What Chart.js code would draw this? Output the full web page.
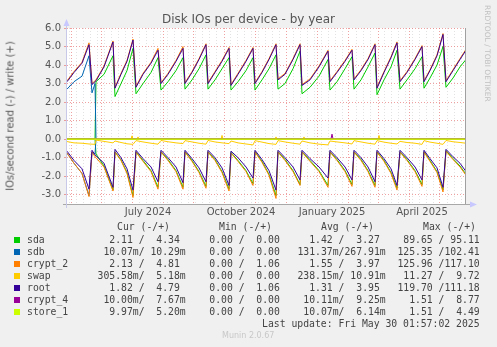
<!DOCTYPE html>
<html>
<head>
<meta charset="utf-8">
<title>Disk IOs per device - by year</title>
<script src="https://cdn.jsdelivr.net/npm/chart.js@4.4.1/dist/chart.umd.min.js"></script>
<style>
  body { margin: 0; background: #f0f0f0; }
  #wrap { position: relative; width: 497px; height: 347px; background: #f0f0f0; overflow: hidden;
          font-family: "DejaVu Sans", sans-serif; }
  #graph { position: absolute; left: 0; top: 0; }
  .t { position: absolute; white-space: pre; }
  #title { left: 0; top: 12px; width: 497px; text-align: center; font-size: 12px; color: #555; }
  #vlabel { left: 10px; top: 116px; font-size: 10px; color: #555;
            transform: translate(-50%, -50%) rotate(-90deg); }
  #rrd { left: 483px; top: 5px; writing-mode: vertical-rl; font-size: 7.5px; color: #c0c0c0; }
  .mono { font-family: "DejaVu Sans Mono", monospace; font-size: 9.77px; color: #444; line-height: 12px; }
  .box { position: absolute; width: 6px; height: 6px; }
  #munin { left: 222px; top: 331px; font-size: 8px; color: #c8c8c8; }
</style>
</head>
<body>
<div id="wrap">
  <canvas id="graph" width="497" height="347"></canvas>
  <div id="title" class="t">Disk IOs per device - by year</div>
  <div id="vlabel" class="t">IOs/second read (-) / write (+)</div>
  <div id="rrd" class="t">RRDTOOL / TOBI OETIKER</div>
  <div id="legend"></div>
  <div id="munin" class="t">Munin 2.0.67</div>
</div>
<script>
// x = days since the start of the 400 day window (ends Fri May 30 2025)
const days = [0, 7, 15, 22, 25, 28, 29, 37, 46, 48, 54, 60, 66, 69, 76, 84, 91,
  94, 101, 109, 116, 118, 125, 132, 139, 141, 148, 155, 162, 164, 171, 179, 186,
  188, 195, 202, 209, 211, 218, 226, 233, 235, 243, 252, 261, 263, 270, 278, 285,
  287, 294, 301, 308, 310, 317, 324, 330, 333, 340, 348, 355, 357, 363, 370, 376,
  379, 386, 393, 399];

const sdaWrite = [0, 0, 0, 0, 0, 0, 3.1, 3.5, 4.5, 2.3, 3.0, 3.7, 4.9, 2.45, 3.0, 3.6, 4.4,
  2.65, 3.1, 3.7, 4.4, 2.7, 3.2, 3.8, 4.55, 2.7, 3.2, 3.8, 4.4, 2.65, 3.1, 3.7, 4.4,
  2.65, 3.2, 3.8, 4.55, 2.7, 3.0, 3.8, 4.75, 2.45, 2.8, 3.4, 4.3, 2.65, 3.1, 3.8, 4.45,
  2.7, 3.2, 3.9, 4.65, 2.4, 3.2, 3.9, 4.8, 2.7, 3.2, 3.8, 4.45, 2.75, 3.3, 4.0, 5.0,
  2.8, 3.3, 3.9, 4.3];
const sdaRead = [0, 0, 0, 0, 0, 0, -0.8, -1.45, -2.75, -0.68, -1.12, -1.8, -3.05, -0.68, -1.15, -1.7, -2.6,
  -0.68, -1.1, -1.7, -2.6, -0.68, -1.15, -1.75, -2.55, -0.68, -1.1, -1.75, -2.7, -0.72, -1.15, -1.7, -2.4,
  -0.68, -1.2, -1.9, -3.05, -0.68, -1.1, -1.7, -2.45, -0.68, -1.15, -1.7, -2.5, -0.68, -1.1, -1.7, -2.45,
  -0.68, -1.1, -1.7, -2.5, -0.68, -1.15, -1.8, -2.65, -0.68, -1.1, -1.7, -2.45, -0.68, -1.15, -1.75, -2.75,
  -0.62, -1.05, -1.45, -1.9];

const sdbWrite = [2.7, 3.1, 3.4, 4.5, 2.5, 3.0, 0, 0, 0, 0, 0, 0, 0, 0, 0, 0, 0,
  0, 0, 0, 0, 0, 0, 0, 0, 0, 0, 0, 0, 0, 0, 0, 0,
  0, 0, 0, 0, 0, 0, 0, 0, 0, 0, 0, 0, 0, 0, 0, 0,
  0, 0, 0, 0, 0, 0, 0, 0, 0, 0, 0, 0, 0, 0, 0, 0,
  0, 0, 0, 0];
const sdbRead = [-0.75, -1.3, -1.85, -3.05, -0.7, -0.8, 0, 0, 0, 0, 0, 0, 0, 0, 0, 0, 0,
  0, 0, 0, 0, 0, 0, 0, 0, 0, 0, 0, 0, 0, 0, 0, 0,
  0, 0, 0, 0, 0, 0, 0, 0, 0, 0, 0, 0, 0, 0, 0, 0,
  0, 0, 0, 0, 0, 0, 0, 0, 0, 0, 0, 0, 0, 0, 0, 0,
  0, 0, 0, 0];

const crypt2Write = [3.15, 3.65, 4.15, 5.2, 3.0, 3.15, 3.2, 3.95, 5.3, 2.8, 3.55, 4.25, 5.4, 2.85, 3.55, 4.15, 4.9,
  3.05, 3.55, 4.25, 5.0, 3.05, 3.65, 4.35, 5.15, 3.05, 3.65, 4.25, 4.95, 2.95, 3.55, 4.25, 4.95,
  3.05, 3.65, 4.35, 5.15, 3.25, 3.55, 4.35, 5.15, 2.95, 3.25, 3.95, 4.8, 3.15, 3.65, 4.25, 4.85,
  3.25, 3.75, 4.35, 5.15, 2.8, 3.65, 4.45, 5.25, 3.15, 3.65, 4.35, 5.05, 3.15, 3.75, 4.55, 5.7,
  3.15, 3.75, 4.35, 4.85];
const crypt2Read = [-0.75, -1.3, -1.85, -3.1, -0.7, -0.95, -1.0, -1.5, -2.8, -0.7, -1.15, -1.85, -3.15, -0.7, -1.2, -1.75, -2.7,
  -0.7, -1.15, -1.75, -2.7, -0.7, -1.2, -1.8, -2.65, -0.7, -1.15, -1.8, -2.8, -0.75, -1.2, -1.75, -2.5,
  -0.7, -1.25, -1.95, -3.2, -0.7, -1.15, -1.75, -2.5, -0.7, -1.2, -1.75, -2.6, -0.7, -1.15, -1.75, -2.55,
  -0.7, -1.15, -1.75, -2.6, -0.7, -1.2, -1.85, -2.75, -0.7, -1.15, -1.75, -2.55, -0.7, -1.2, -1.8, -2.85,
  -0.65, -1.1, -1.5, -1.95];

const swapRead = [-0.13, -0.2, -0.22, -0.26, -0.27, -0.28, -0.05, -0.12, -0.2, -0.1, -0.18, -0.25, -0.28, -0.08, -0.15, -0.22, -0.27,
  -0.07, -0.14, -0.2, -0.24, -0.08, -0.15, -0.22, -0.27, -0.07, -0.15, -0.2, -0.24, -0.1, -0.2, -0.26, -0.31,
  -0.08, -0.16, -0.24, -0.28, -0.08, -0.15, -0.22, -0.27, -0.1, -0.2, -0.27, -0.31, -0.1, -0.15, -0.2, -0.26,
  -0.08, -0.15, -0.22, -0.27, -0.08, -0.16, -0.22, -0.26, -0.12, -0.18, -0.22, -0.28, -0.08, -0.16, -0.22, -0.28,
  -0.07, -0.14, -0.18, -0.22];
const swapWriteDays = [0, 64, 65, 66, 70, 71, 72, 154, 155, 156, 208, 209, 210, 236, 237, 238, 311, 312, 313, 399];
const swapWrite = [0, 0, 0.18, 0, 0, 0.12, 0, 0, 0.2, 0, 0, 0.12, 0, 0, 0.12, 0, 0, 0.2, 0, 0];

const rootWrite = [3.1, 3.6, 4.1, 5.1, 2.95, 3.1, 3.15, 3.9, 5.25, 2.75, 3.5, 4.2, 5.35, 2.8, 3.5, 4.1, 4.8,
  3.0, 3.5, 4.2, 4.9, 3.0, 3.6, 4.3, 5.1, 3.0, 3.6, 4.2, 4.9, 2.9, 3.5, 4.2, 4.9,
  3.0, 3.6, 4.3, 5.1, 3.2, 3.5, 4.3, 5.1, 2.9, 3.2, 3.9, 4.75, 3.1, 3.6, 4.2, 4.8,
  3.2, 3.7, 4.3, 5.1, 2.75, 3.6, 4.4, 5.2, 3.1, 3.6, 4.3, 5.0, 3.1, 3.7, 4.5, 5.65,
  3.1, 3.7, 4.3, 4.8];
const rootRead = [-0.65, -1.15, -1.6, -2.7, -0.6, -0.85, -0.9, -1.3, -2.6, -0.55, -1.0, -1.6, -2.75, -0.6, -1.05, -1.5, -2.3,
  -0.6, -1.0, -1.5, -2.35, -0.6, -1.05, -1.55, -2.3, -0.6, -1.0, -1.55, -2.5, -0.65, -1.0, -1.5, -2.1,
  -0.6, -1.1, -1.7, -2.75, -0.6, -1.0, -1.5, -2.2, -0.6, -1.05, -1.5, -2.1, -0.6, -1.0, -1.5, -2.2,
  -0.6, -1.0, -1.5, -2.3, -0.6, -1.05, -1.6, -2.5, -0.6, -1.0, -1.5, -2.2, -0.6, -1.05, -1.55, -2.6,
  -0.55, -0.95, -1.3, -1.75];

const crypt4Days = [0, 264, 265, 266, 399];
const crypt4Write = [0.01, 0.01, 0.27, 0.01, 0.01];
const crypt4Read = [-0.01, -0.01, -0.01, -0.01, -0.01];

const store1Days = [0, 399];
const store1Write = [0.01, 0.01];
const store1Read = [-0.01, -0.01];

// axis furniture
const yGridSteps = [-3, -2.5, -2, -1.5, -1, -0.5, 0, 0.5, 1, 1.5, 2, 2.5, 3, 3.5, 4, 4.5, 5, 5.5, 6];
const monthLines = [4.7, 34.7, 65, 96, 126, 157, 188, 219, 250, 281, 311, 342, 372];
const monthLabelDays = [81, 174, 265, 355];
const monthLabels = ['July 2024', 'October 2024', 'January 2025', 'April 2025'];

// legend table
const legendNames = ['sda', 'sdb', 'crypt_2', 'swap', 'root', 'crypt_4', 'store_1'];
const legendColors = ['#00CC00', '#0066B3', '#FF8000', '#FFCC00', '#330099', '#990099', '#CCFF00'];
const legendCur = ['  2.11 /  4.34 ', ' 10.07m/ 10.29m', '  2.13 /  4.81 ', '305.58m/  5.18m', '  1.82 /  4.79 ', ' 10.00m/  7.67m', '  9.97m/  5.20m'];
const legendMin = ['  0.00 /  0.00 ', '  0.00 /  0.00 ', '  0.00 /  1.06 ', '  0.00 /  0.00 ', '  0.00 /  1.06 ', '  0.00 /  0.00 ', '  0.00 /  0.00 '];
const legendAvg = ['  1.42 /  3.27 ', '131.37m/267.91m', '  1.55 /  3.97 ', '238.15m/ 10.91m', '  1.31 /  3.95 ', ' 10.11m/  9.25m', ' 10.07m/  6.14m'];
const legendMax = [' 89.65 / 95.11 ', '125.35 /102.41 ', '125.96 /117.10 ', ' 11.27 /  9.72 ', '119.70 /111.18 ', '  1.51 /  8.77 ', '  1.51 /  4.49 '];
const lastUpdate = 'Last update: Fri May 30 01:57:02 2025';

// minor grid: weekly, skipping spots that sit on a month line
const weekLines = [];
for (let d = 2.7; d < 399; d += 7) {
  if (!monthLines.some(m => Math.abs(m - d) < 2)) weekLines.push(d);
}
const xGrid = weekLines.concat(monthLines).sort((a, b) => a - b);

function pts(xs, ys) {
  return ys.map((v, i) => ({ x: xs[i], y: v }));
}

const series = [
  ['sda', days, sdaRead, sdaWrite, legendColors[0]],
  ['sdb', days, sdbRead, sdbWrite, legendColors[1]],
  ['crypt_2', days, crypt2Read, crypt2Write, legendColors[2]],
  ['swap', null, swapRead, swapWrite, legendColors[3]],
  ['root', days, rootRead, rootWrite, legendColors[4]],
  ['crypt_4', crypt4Days, crypt4Read, crypt4Write, legendColors[5]],
  ['store_1', store1Days, store1Read, store1Write, legendColors[6]]
];

const datasets = [];
series.forEach(s => {
  const readX = s[1] || days;
  const writeX = s[1] || swapWriteDays;
  datasets.push({ label: s[0] + ' read', data: pts(readX, s[2]), borderColor: s[4] });
  datasets.push({ label: s[0] + ' write', data: pts(writeX, s[3]), borderColor: s[4] });
});
// munin draws later fields over earlier ones
datasets.forEach((d, i) => { d.order = datasets.length - i; });

const majorColor = 'rgba(230, 110, 110, 0.65)';
const minorColor = 'rgba(190, 190, 190, 0.45)';

const frame = {
  id: 'frame',
  beforeDraw(chart) {
    const { ctx, chartArea: a } = chart;
    ctx.save();
    ctx.fillStyle = '#ffffff';
    ctx.fillRect(a.left, a.top, a.right - a.left, a.bottom - a.top);
    ctx.restore();
  },
  beforeDatasetsDraw(chart) {
    // zero line
    const { ctx, chartArea: a } = chart;
    const y0 = Math.round(chart.scales.y.getPixelForValue(0));
    ctx.save();
    ctx.fillStyle = '#000000';
    ctx.fillRect(a.left, y0, a.right - a.left, 1);
    ctx.restore();
  },
  afterDraw(chart) {
    const { ctx, chartArea: a } = chart;
    ctx.save();
    // right edge
    ctx.fillStyle = '#a0a0a0';
    ctx.fillRect(a.right - 1, a.top, 1, a.bottom - a.top);
    // bottom axis
    ctx.fillStyle = '#a8a8a8';
    ctx.fillRect(a.left - 4, a.bottom, a.right - a.left + 8, 1);
    // left axis
    ctx.fillStyle = '#c8c8e8';
    ctx.fillRect(a.left - 1, a.top - 6, 1, a.bottom - a.top + 10);
    // arrows
    ctx.fillStyle = '#c8c8ff';
    ctx.beginPath();
    ctx.moveTo(a.left - 0.5, a.top - 9);
    ctx.lineTo(a.left - 3.5, a.top - 2);
    ctx.lineTo(a.left + 2.5, a.top - 2);
    ctx.closePath();
    ctx.fill();
    ctx.beginPath();
    ctx.moveTo(a.right + 11, a.bottom + 0.5);
    ctx.lineTo(a.right + 4, a.bottom - 2.5);
    ctx.lineTo(a.right + 4, a.bottom + 3.5);
    ctx.closePath();
    ctx.fill();
    ctx.restore();
  }
};

const tickFont = { family: 'DejaVu Sans', size: 10 };

new Chart(document.getElementById('graph').getContext('2d'), {
  type: 'line',
  data: { datasets },
  options: {
    responsive: false,
    animation: false,
    events: [],
    layout: { padding: { left: 0, top: 28, right: 31, bottom: 129 } },
    elements: { point: { radius: 0 }, line: { borderWidth: 1, tension: 0, fill: false } },
    plugins: { legend: { display: false }, title: { display: false }, tooltip: { enabled: false } },
    scales: {
      x: {
        type: 'linear', min: 0, max: 399, position: 'bottom',
        grid: { color: c => monthLines.includes(c.tick.value) ? majorColor : minorColor, drawTicks: false, borderDash: [1, 2] },
        border: { display: false, dash: [1, 2] },
        ticks: { display: false },
        afterBuildTicks: s => { s.ticks = xGrid.map(v => ({ value: v })); },
        afterFit: s => { s.height = 0; }
      },
      xl: {
        type: 'linear', min: 0, max: 399, position: 'bottom',
        grid: { display: false, drawTicks: false },
        border: { display: false },
        ticks: {
          font: tickFont, color: '#555', padding: 2, autoSkip: false, maxRotation: 0,
          callback: v => monthLabels[monthLabelDays.indexOf(v)]
        },
        afterBuildTicks: s => { s.ticks = monthLabelDays.map(v => ({ value: v })); },
        afterFit: s => { s.height = 14; }
      },
      y: {
        type: 'linear', min: -3.5, max: 6, position: 'left',
        grid: { color: c => Number.isInteger(c.tick.value) ? majorColor : minorColor, tickLength: 3, borderDash: [1, 2] },
        border: { display: false, dash: [1, 2] },
        ticks: {
          font: tickFont, color: '#555', padding: 3,
          callback: v => Number.isInteger(v) ? v.toFixed(1) : ''
        },
        afterBuildTicks: s => { s.ticks = yGridSteps.map(v => ({ value: v })); },
        afterFit: s => { s.width = 67; }
      }
    }
  },
  plugins: [frame]
});

// legend below the graph
const legend = document.getElementById('legend');
function addText(txt, x, y, cls) {
  const el = document.createElement('div');
  el.className = 't ' + cls;
  el.style.left = x + 'px';
  el.style.top = (y - 6) + 'px';
  el.textContent = txt;
  legend.appendChild(el);
}
addText('Cur (-/+)', 117, 227, 'mono');
addText('Min (-/+)', 219, 227, 'mono');
addText('Avg (-/+)', 321, 227, 'mono');
addText('Max (-/+)', 423, 227, 'mono');
legendNames.forEach((name, i) => {
  const y = 240 + i * 12;
  const box = document.createElement('div');
  box.className = 'box';
  box.style.left = '14px';
  box.style.top = (y - 3) + 'px';
  box.style.background = legendColors[i];
  legend.appendChild(box);
  const row = name.padEnd(12) + legendCur[i] + '  ' + legendMin[i] + '  ' + legendAvg[i] + '  ' + legendMax[i];
  addText(row, 27, y, 'mono');
});
addText(lastUpdate, 262, 324, 'mono');
</script>
</body>
</html>
